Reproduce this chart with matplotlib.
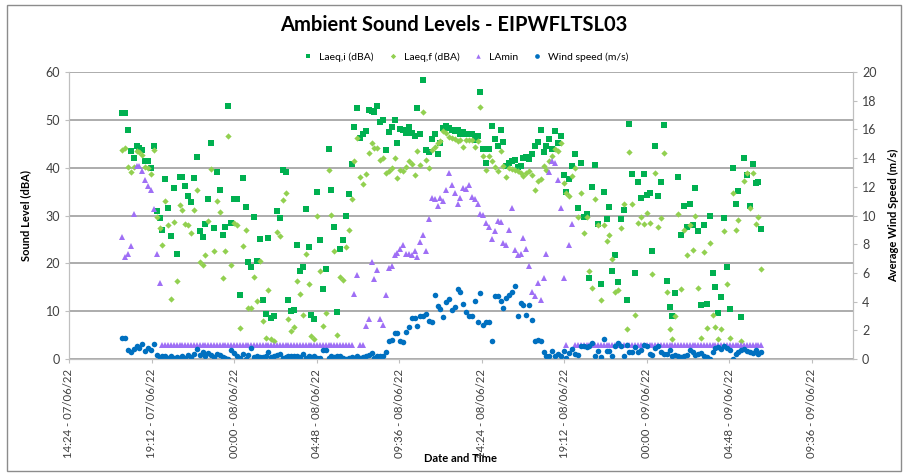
import matplotlib
matplotlib.use("Agg")
import matplotlib.pyplot as plt
import matplotlib.dates as mdates
from matplotlib.patches import Rectangle
from datetime import datetime, timedelta

plt.rcParams['font.family'] = ['Lato', 'DejaVu Sans']

# 10 minute readings, 07/06/22 17:30 onwards
start = datetime(2022, 6, 7, 17, 30)
n_pts = 224

laeq_i = [
    51.4, 51.5, 47.8, 43.4, 42.0, 44.6, 44.1, 43.7, 41.4, 41.3,
    39.9, 44.6, 31.0, 29.4, 26.9, 37.6, 31.6, 25.7, 35.8, 22.0,
    38.0, 38.1, 36.1, 34.1, 32.8, 37.8, 42.3, 26.7, 25.5, 28.2,
    33.5, 45.2, 27.3, 39.0, 35.3, 25.9, 27.6, 52.9, 28.5, 33.5,
    33.4, 13.3, 37.9, 31.7, 20.3, 19.2, 29.7, 20.5, 25.0, 12.4,
    9.4, 25.2, 8.6, 8.9, 31.0, 29.4, 39.5, 39.0, 12.4, 10.0,
    10.3, 23.8, 18.3, 19.2, 31.4, 23.4, 9.2, 8.4, 34.9, 24.8,
    14.7, 18.8, 44.0, 35.4, 27.6, 9.9, 23.1, 24.8, 29.9, 34.5,
    40.8, 48.5, 52.4, 46.3, 47.0, 47.7, 52.1, 51.9, 51.7, 52.9,
    49.5, 49.9, 43.6, 47.4, 48.6, 50.0, 45.1, 48.0, 47.8, 47.3,
    48.6, 47.2, 46.7, 52.4, 47.1, 58.4, 43.7, 43.2, 45.9, 47.1,
    42.9, 45.1, 48.3, 48.7, 48.3, 47.9, 47.6, 47.9, 47.1, 47.4,
    47.1, 47.0, 47.0, 45.8, 46.7, 55.8, 43.8, 40.9, 43.8, 48.7,
    46.0, 44.6, 47.8, 45.3, 40.3, 40.9, 41.3, 41.5, 40.2, 40.3,
    42.1, 42.3, 41.8, 42.8, 44.5, 45.3, 47.9, 43.2, 44.6, 45.9,
    43.8, 47.6, 45.1, 46.6, 38.4, 35.0, 37.6, 40.4, 42.8, 31.6,
    41.0, 29.6, 30.3, 16.9, 36.0, 40.5, 28.2, 15.7, 35.0, 29.2,
    31.8, 18.5, 21.7, 16.1, 29.2, 31.1, 12.4, 49.1, 38.6, 18.0,
    37.1, 33.6, 38.6, 34.3, 34.6, 22.5, 44.5, 34.1, 37.0, 49.0,
    16.4, 10.8, 9.0, 13.8, 38.0, 25.9, 32.0, 27.6, 32.5, 28.0,
    35.7, 26.8, 11.2, 28.1, 11.4, 30.0, 17.9, 15.0, 9.7, 12.9,
    29.5, 19.2, 10.4, 40.0, 32.3, 35.1, 8.7, 42.1, 38.5, 32.0,
    40.8, 36.7, 37.1, 27.1,
]

laeq_f = [
    43.7, 44.2, 40.2, 39.0, 40.2, 43.4, 43.2, 42.6, 40.2, 40.0,
    38.7, 43.7, 29.6, 27.4, 23.8, 33.1, 28.1, 12.6, 28.7, 16.4,
    32.1, 31.1, 28.3, 28.0, 26.4, 31.1, 35.4, 20.2, 19.6, 21.7,
    28.8, 39.7, 22.5, 33.1, 30.7, 16.9, 22.6, 46.6, 19.7, 28.5,
    28.0, 6.5, 23.6, 26.9, 10.7, 10.7, 17.1, 12.1, 20.4, 8.0,
    4.3, 14.5, 4.2, 3.8, 26.6, 25.7, 33.2, 34.6, 8.3, 5.9,
    6.6, 16.4, 13.5, 9.3, 21.9, 15.7, 4.9, 4.1, 29.9, 18.4,
    7.0, 9.7, 39.5, 30.2, 22.6, 5.1, 17.1, 16.6, 23.4, 26.9,
    33.4, 41.3, 46.2, 38.1, 36.6, 38.7, 43.0, 45.2, 44.2, 44.2,
    41.6, 42.0, 38.8, 39.2, 40.0, 42.0, 37.8, 39.5, 39.4, 40.2,
    41.3, 40.7, 38.5, 43.5, 40.6, 51.6, 41.6, 39.9, 43.7, 44.4,
    45.2, 45.5, 47.6, 47.2, 46.5, 46.2, 45.9, 45.6, 45.7, 44.4,
    45.8, 45.8, 45.7, 44.4, 45.5, 52.7, 42.5, 39.5, 42.4, 41.3,
    40.2, 39.2, 43.4, 40.4, 38.1, 39.9, 39.7, 39.5, 39.2, 38.8,
    38.3, 38.8, 39.2, 38.5, 35.3, 37.2, 37.6, 40.4, 39.5, 41.3,
    42.5, 43.9, 43.4, 45.2, 36.8, 34.8, 34.1, 38.3, 39.9, 29.7,
    34.8, 26.4, 29.6, 18.3, 14.8, 33.4, 28.0, 12.4, 28.1, 24.6,
    26.0, 21.0, 14.0, 14.5, 27.3, 32.5, 6.2, 43.2, 32.5, 9.3,
    28.5, 29.7, 28.3, 30.6, 28.5, 17.8, 38.8, 27.6, 29.5, 43.1,
    14.1, 6.3, 4.1, 9.0, 30.4, 14.7, 26.9, 21.8, 28.0, 22.7,
    29.9, 14.9, 4.3, 22.4, 6.4, 24.3, 9.2, 6.6, 4.2, 6.3,
    26.8, 15.7, 4.3, 34.8, 27.0, 29.0, 3.8, 37.3, 38.8, 31.6,
    38.8, 28.3, 29.7, 18.9,
]

lamin_head = [25.6, 21.3, 21.9, 23.7, 30.3, 40.3, 40.3, 39.2, 37.4, 36.2,
              35.3, 31.3, 21.9, 15.9]
lamin_floor_1 = [3.0] * 67
lamin_mid = [
    13.5, 17.5, 3.0, 3.0, 6.8, 8.3, 20.3, 16.7, 18.6,
    8.4, 7.1, 13.3, 19.0, 19.4, 21.7, 22.2, 23.1, 23.8, 22.0,
    21.9, 21.7, 22.6, 21.3, 24.5, 25.9, 22.6, 29.2, 33.7, 33.4,
    32.0, 33.7, 33.0, 35.3, 38.8, 36.4, 34.8, 32.3, 33.7, 35.8,
    35.5, 36.4, 33.9, 33.4, 32.5, 30.3, 30.1, 28.5, 27.5, 25.0,
    26.8, 28.9, 28.7, 24.3, 23.9,
    26.9, 31.5, 22.7, 21.8, 22.0, 25.3, 22.9, 19.4, 14.1, 13.1,
    15.9, 12.4, 16.9, 22.0, 39.0, 41.4, 40.9, 37.4, 31.5, 16.9,
    3.0, 23.8, 28.3,
]
lamin_floor_2 = [3.0] * 66
lamin = lamin_head + lamin_floor_1 + lamin_mid + lamin_floor_2

wind = [
    1.45, 1.45, 0.65, 0.47, 0.70, 0.93, 0.79, 1.05, 0.58, 0.75,
    0.65, 1.05, 0.28, 0.05, 0.19, 0.19, 0.05, 0.23, 0.05, 0.16,
    0.09, 0.23, 0.09, 0.28, 0.14, 0.33, 0.70, 0.28, 0.47, 0.19,
    0.42, 0.28, 0.14, 0.33, 0.28, 0.12, 0.05, 0.00, 0.61, 0.42,
    0.23, 0.05, 0.35, 0.00, 0.28,
    0.75, 0.16, 0.23, 0.12, 0.12, 0.23, 0.47, 0.12, 0.23, 0.28,
    0.33, 0.09, 0.16, 0.19, 0.23, 0.19, 0.23, 0.16, 0.37, 0.05,
    0.23, 0.14, 0.23, 0.05, 0.09, 0.65, 0.65, 0.05, 0.23, 0.12,
    0.23, 0.19, 0.09, 0.00, 0.09, 0.14, 0.09, 0.19, 0.09, 0.14,
    0.23, 0.28, 0.42, 0.09, 0.19,
    0.23, 0.19, 0.51, 1.26, 1.35, 1.82, 1.82, 1.28, 1.21, 1.91,
    2.26, 2.84, 2.84, 2.28, 3.03, 3.03, 3.12, 2.68, 2.56, 4.43,
    3.68, 3.50, 2.91, 3.96, 4.15, 3.40, 3.59, 4.85, 4.69, 3.85,
    3.31, 2.98, 3.03, 4.01, 2.61, 4.62, 2.40, 2.59, 2.56, 1.26,
    4.38, 4.38, 4.03, 3.57, 4.25,
    4.43, 4.66, 5.08, 3.03, 3.92, 3.78, 3.10, 3.73, 2.75, 1.28,
    1.35, 1.28, 0.51, 0.19, 0.23, 0.56, 0.23, 0.33, 0.19, 0.56,
    0.09, 0.42, 0.70, 0.35, 0.28, 0.93, 0.89, 0.82, 0.89, 1.12,
    0.23, 0.56, 0.12, 1.40, 0.56, 0.58, 0.23, 0.89, 1.10, 0.93,
    0.19, 0.98, 0.47, 0.51, 0.82,
    0.47,
    0.65, 0.98, 0.93, 0.33, 0.28, 0.75, 0.89, 0.47, 0.35, 0.33,
    0.65, 0.19, 0.28, 0.23, 0.14, 0.23, 0.28, 0.65, 0.51, 0.28,
    0.33, 0.42, 0.23, 0.14, 0.00, 0.51, 0.75, 0.82, 0.70, 0.89,
    0.75, 0.65, 0.00, 0.33, 0.47, 0.65, 0.70, 0.56, 0.51, 0.42,
    0.65, 0.33, 0.51,
]

times = [start + timedelta(minutes=10 * k) for k in range(n_pts)]

c_laeqi = '#00b050'
c_laeqf = '#92d050'
c_lamin = '#9f6ff5'
c_wind = '#0070c0'
grid_c = '#a6a6a6'

fig = plt.figure(figsize=(9.08, 4.75), dpi=100)
fig.patches.append(Rectangle((7 / 908, 4 / 475), 894 / 908, 466 / 475,
                             transform=fig.transFigure, fill=False,
                             edgecolor='#8c8c8c', linewidth=1.0))

ax = fig.add_axes([69 / 908, 1 - 359 / 475, 784 / 908, 287 / 475])
ax2 = ax.twinx()

h1, = ax.plot(times, laeq_i, 's', color=c_laeqi, ms=4.0, mew=0, label='Laeq,i (dBA)')
h2, = ax.plot(times, laeq_f, 'D', color=c_laeqf, ms=3.2, mew=0, label='Laeq,f (dBA)')
h3, = ax.plot(times, lamin, '^', color=c_lamin, ms=3.8, mew=0, label='LAmin')
h4, = ax2.plot(times, wind, 'o', color=c_wind, ms=4.0, mew=0, label='Wind speed (m/s)')

t0 = datetime(2022, 6, 7, 14, 24)
t1 = datetime(2022, 6, 9, 12, 0)
ax.set_xlim(t0, t1)
ax.set_ylim(0, 60)
ax2.set_ylim(0, 20)
ax.set_yticks(range(0, 61, 10))
ax2.set_yticks(range(0, 21, 2))

ticks = [t0 + timedelta(hours=4.8 * k) for k in range(10)]
ax.set_xticks(ticks)
ax.xaxis.set_major_formatter(mdates.DateFormatter('%H:%M - %d/%m/%y'))

ax.yaxis.grid(True, color=grid_c, linewidth=1.3)
ax.set_axisbelow(True)
for a in (ax, ax2):
    for s in a.spines.values():
        s.set_color('#bfbfbf')
    a.spines['top'].set_visible(False)
    a.tick_params(colors='#404040', labelsize=9, length=3, color='#bfbfbf')
ax.tick_params(axis='x', labelsize=8.2, labelrotation=90, pad=4)

ax.set_ylabel('Sound Level (dBA)', fontsize=8, fontweight='bold', labelpad=10)
ax2.set_ylabel('Average Wind Speed (m/s)', fontsize=8, fontweight='bold', labelpad=8)
fig.text(461 / 908, 1 - 458 / 475, 'Date and Time', ha='center', va='center',
         fontsize=8, fontweight='bold')

fig.text(0.5, 1 - 25 / 475, 'Ambient Sound Levels - EIPWFLTSL03', ha='center',
         va='center', fontsize=14.5, fontweight='bold')
fig.legend(handles=[h1, h2, h3, h4], loc='center', bbox_to_anchor=(0.51, 1 - 57 / 475),
           ncol=4, frameon=False, fontsize=7.5, handletextpad=0.05, columnspacing=0.8,
           markerscale=0.85)

fig.savefig('out.png', dpi=100)
